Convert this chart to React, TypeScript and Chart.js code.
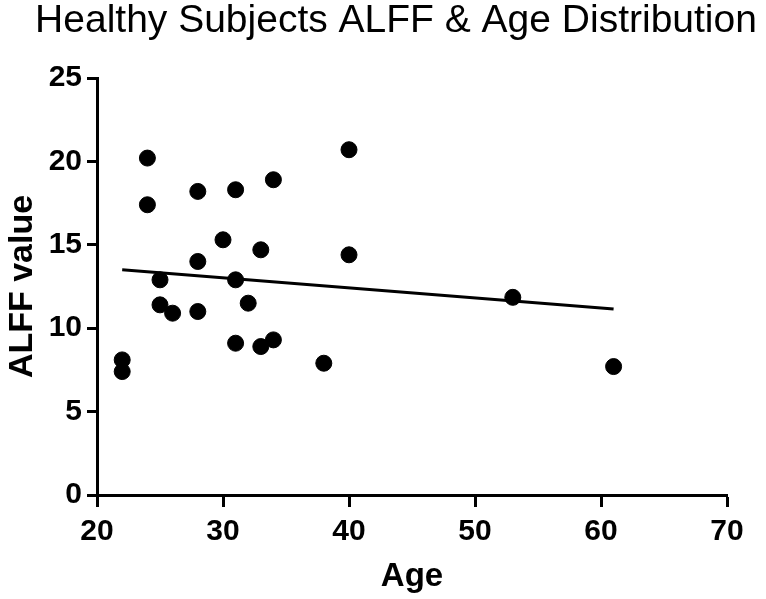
import React, { useEffect, useRef } from "react";
import { Chart, registerables } from "chart.js";

Chart.register(...registerables);

const ages = [22, 22, 24, 24, 25, 25, 26, 28, 28, 28, 30, 31, 31, 31, 32, 33, 33, 34, 34, 38, 40, 40, 53, 61];
const alffValues = [8.1, 7.4, 20.2, 17.4, 12.9, 11.4, 10.9, 18.2, 14.0, 11.0, 15.3, 18.3, 12.9, 9.1, 11.5, 14.7, 8.9, 18.9, 9.3, 7.9, 20.7, 14.4, 11.85, 7.7];
const fitAges = [22, 61];
const fitValues = [13.5, 11.15];
const xTicks = [20, 30, 40, 50, 60, 70];
const yTicks = [0, 5, 10, 15, 20, 25];

const titleText = "Healthy Subjects ALFF & Age Distribution";
const xTitle = "Age";
const yTitle = "ALFF value";

const FONT = "'Liberation Sans', Arial, Helvetica, sans-serif";

export default function App() {
  const ref = useRef<HTMLCanvasElement | null>(null);

  useEffect(() => {
    if (!ref.current) return;
    const points = ages.map((a, i) => ({ x: a, y: alffValues[i] }));
    const fit = fitAges.map((a, i) => ({ x: a, y: fitValues[i] }));

    const shiftTitle = {
      id: "shiftTitle",
      afterLayout(chart: any) {
        const t = chart.titleBlock;
        if (t) {
          t.left = 26;
          t.right = 766;
        }
      },
    };

    const chart = new Chart(ref.current, {
      type: "scatter",
      data: {
        datasets: [
          {
            label: "Fit",
            data: fit,
            showLine: true,
            borderColor: "#000",
            borderWidth: 3,
            pointRadius: 0,
            fill: false,
          } as any,
          {
            label: "Subjects",
            data: points,
            backgroundColor: "#000",
            borderColor: "#000",
            borderWidth: 1,
            pointRadius: 8,
          },
        ],
      },
      options: {
        responsive: false,
        animation: false,
        devicePixelRatio: 1,
        layout: { padding: { left: 0, right: 39, top: 0, bottom: 0 } },
        plugins: {
          legend: { display: false },
          tooltip: { enabled: false },
          title: {
            display: true,
            text: titleText,
            color: "#000",
            font: { family: FONT, size: 39, weight: "normal", lineHeight: 43 / 39 },
            padding: { top: 0, bottom: 35 },
          },
        },
        scales: {
          x: {
            type: "linear",
            min: 20,
            max: 70,
            afterFit(scale: any) {
              scale.height = 104;
            },
            afterBuildTicks(scale: any) {
              scale.ticks = xTicks.map((v) => ({ value: v }));
            },
            ticks: {
              color: "#000",
              padding: 7,
              font: { family: FONT, size: 30, weight: "bold" },
            },
            grid: {
              drawOnChartArea: false,
              drawTicks: true,
              tickLength: 12,
              tickWidth: 3,
              tickColor: "#000",
              color: "#000",
            },
            border: { display: true, color: "#000", width: 3 },
            title: {
              display: true,
              text: xTitle,
              color: "#000",
              font: { family: FONT, size: 33, weight: "bold" },
              padding: { top: 0, bottom: 2 },
            },
          },
          y: {
            type: "linear",
            min: 0,
            max: 25,
            afterFit(scale: any) {
              scale.width = 97;
            },
            afterBuildTicks(scale: any) {
              scale.ticks = yTicks.map((v) => ({ value: v }));
            },
            ticks: {
              color: "#000",
              padding: 5,
              font: { family: FONT, size: 30, weight: "bold" },
            },
            grid: {
              drawOnChartArea: false,
              drawTicks: true,
              tickLength: 10,
              tickWidth: 3,
              tickColor: "#000",
              color: "#000",
            },
            border: { display: true, color: "#000", width: 3 },
            title: {
              display: true,
              text: yTitle,
              color: "#000",
              font: { family: FONT, size: 34, weight: "bold" },
              padding: { top: 2, bottom: 0 },
            },
          },
        },
      },
      plugins: [shiftTitle],
    });
    return () => chart.destroy();
  }, []);

  return (
    <div style={{ position: "absolute", left: 0, top: 0, width: 766, height: 599, background: "#fff" }}>
      <canvas ref={ref} width={766} height={599} style={{ display: "block", width: 766, height: 599 }} />
    </div>
  );
}
